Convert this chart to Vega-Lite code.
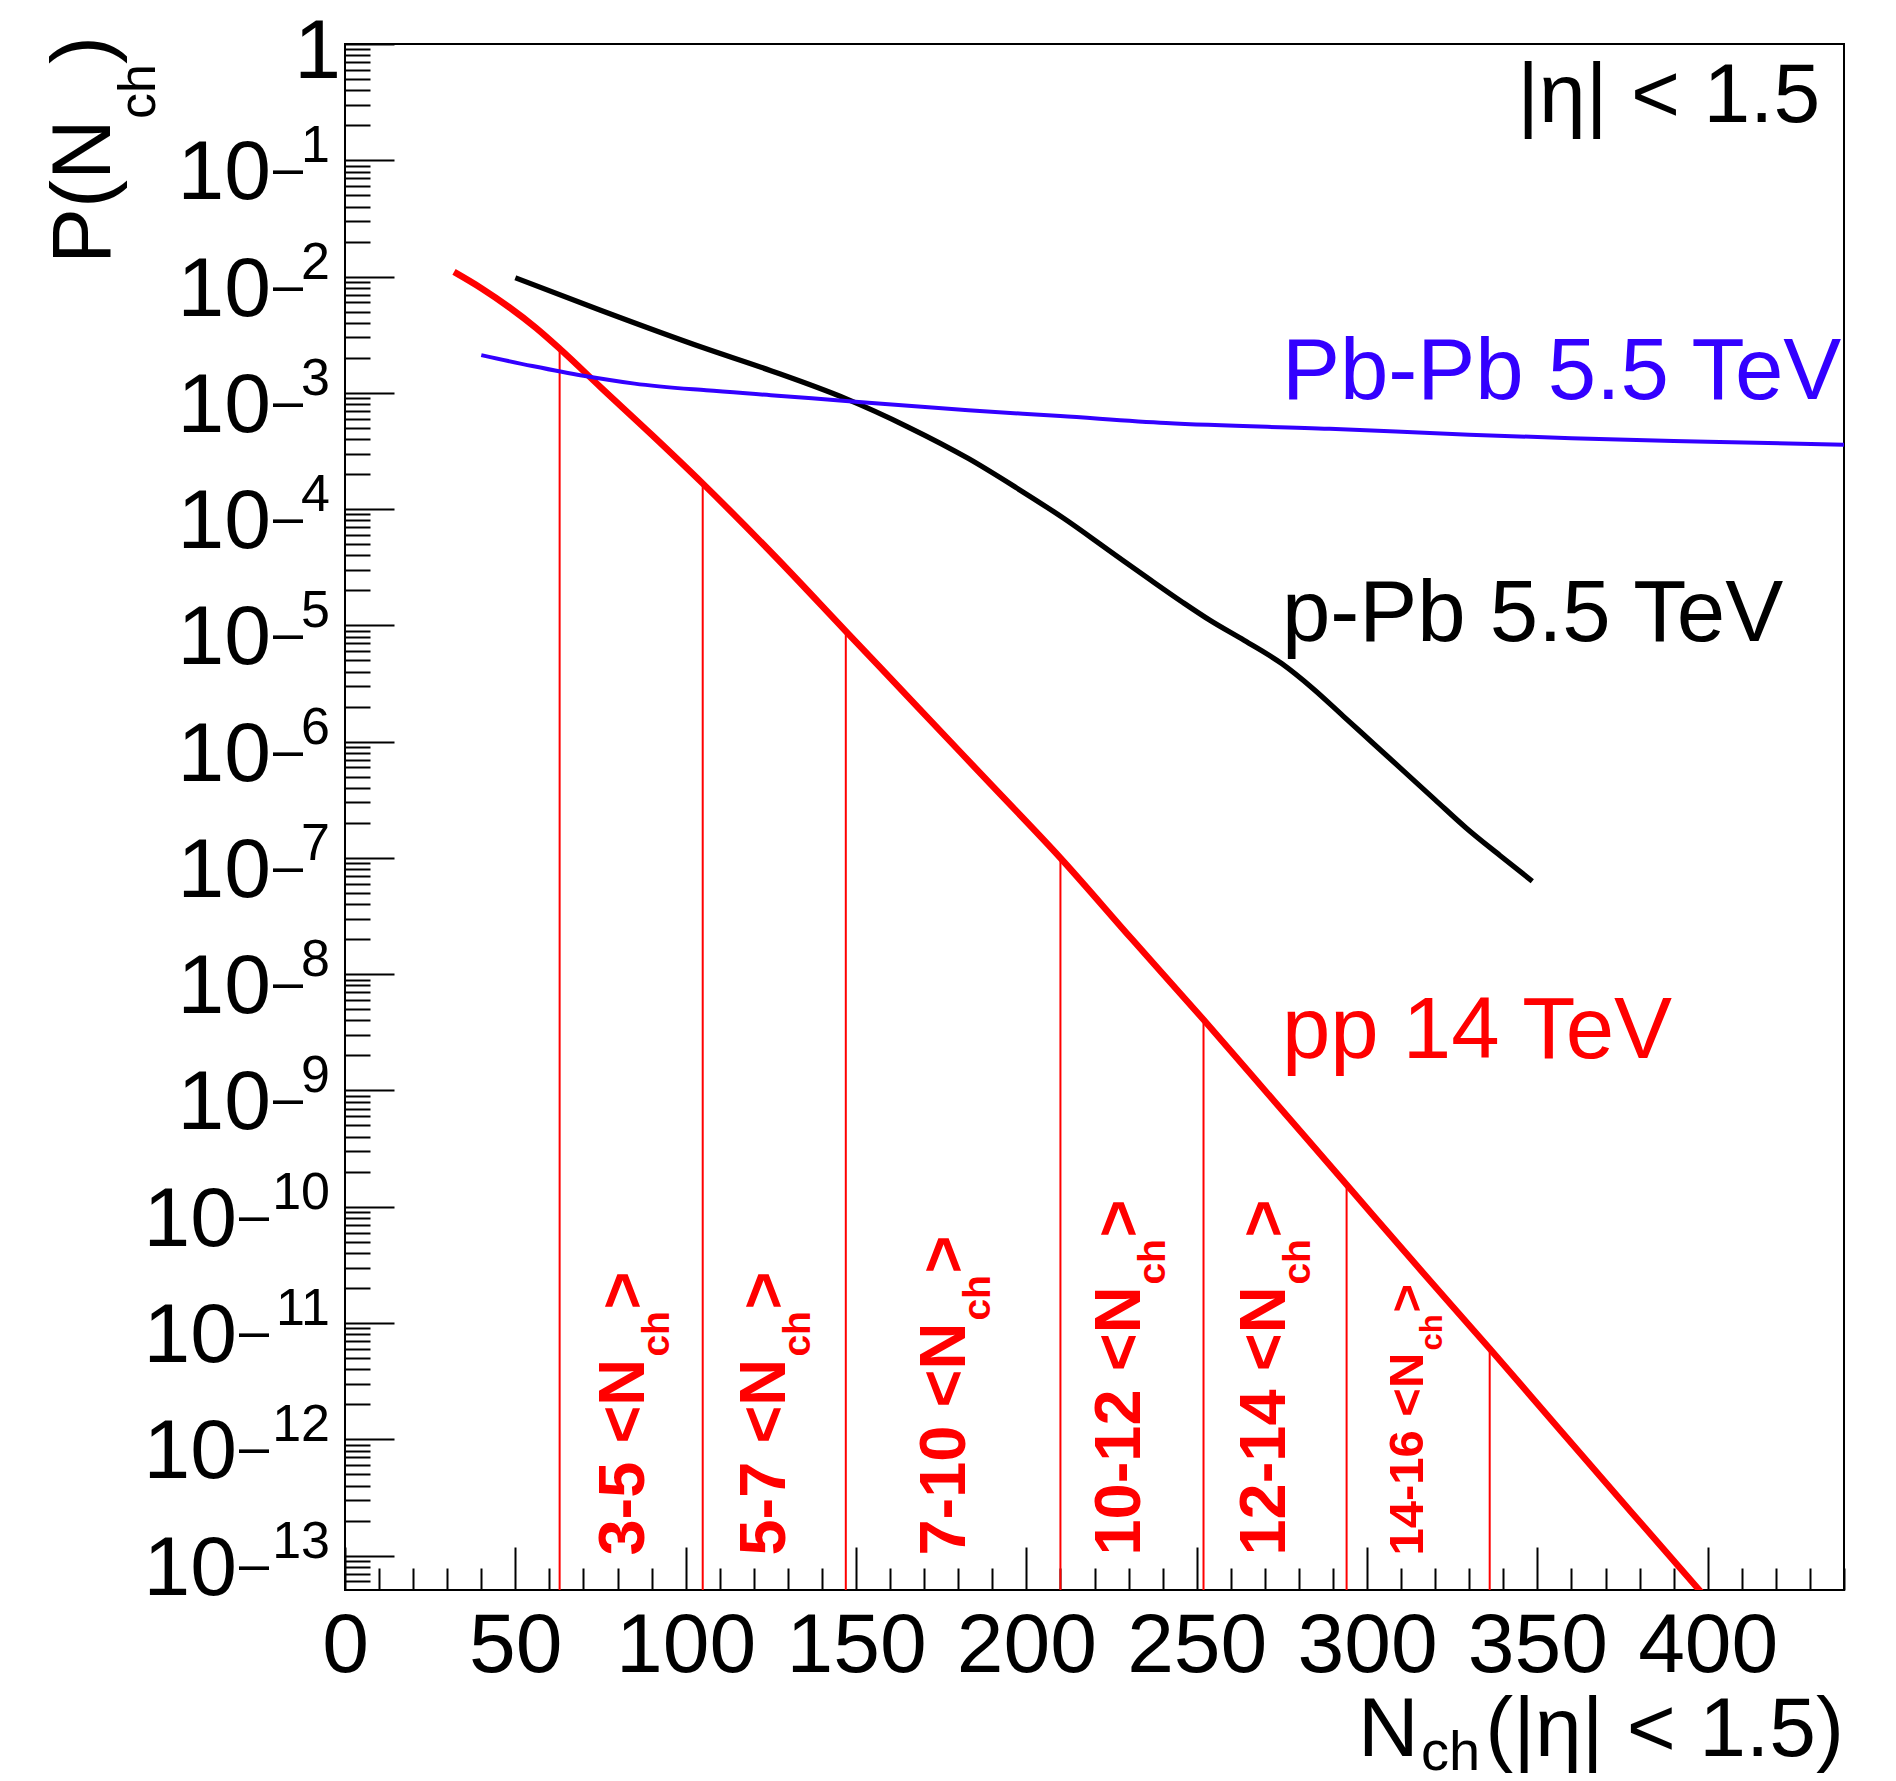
{
  "$schema": "https://vega.github.io/schema/vega-lite/v6.json",
  "width": 1499,
  "height": 1546,
  "autosize": {"type": "none"},
  "padding": {"left": 345, "top": 44, "right": 52, "bottom": 191},
  "background": "#ffffff",
  "config": {
    "font": "Liberation Sans",
    "view": {"stroke": "#000000", "strokeWidth": 2},
    "text": {"font": "Liberation Sans"}
  },
  "datasets": {
    "curves": [
      {"s": "pp 14 TeV", "n": 32, "p": 1.096e-2},
      {"s": "pp 14 TeV", "n": 40, "p": 7.94e-3},
      {"s": "pp 14 TeV", "n": 48, "p": 5.50e-3},
      {"s": "pp 14 TeV", "n": 56, "p": 3.63e-3},
      {"s": "pp 14 TeV", "n": 63, "p": 2.40e-3},
      {"s": "pp 14 TeV", "n": 75, "p": 1.12e-3},
      {"s": "pp 14 TeV", "n": 90, "p": 4.37e-4},
      {"s": "pp 14 TeV", "n": 105, "p": 1.66e-4},
      {"s": "pp 14 TeV", "n": 126, "p": 3.98e-5},
      {"s": "pp 14 TeV", "n": 147, "p": 8.91e-6},
      {"s": "pp 14 TeV", "n": 168, "p": 2.00e-6},
      {"s": "pp 14 TeV", "n": 189, "p": 4.47e-7},
      {"s": "pp 14 TeV", "n": 210, "p": 1.00e-7},
      {"s": "pp 14 TeV", "n": 231, "p": 2.00e-8},
      {"s": "pp 14 TeV", "n": 252, "p": 4.07e-9},
      {"s": "pp 14 TeV", "n": 273, "p": 7.94e-10},
      {"s": "pp 14 TeV", "n": 294, "p": 1.55e-10},
      {"s": "pp 14 TeV", "n": 315, "p": 3.02e-11},
      {"s": "pp 14 TeV", "n": 336, "p": 6.03e-12},
      {"s": "pp 14 TeV", "n": 357, "p": 1.17e-12},
      {"s": "pp 14 TeV", "n": 378, "p": 2.29e-13},
      {"s": "pp 14 TeV", "n": 400, "p": 4.17e-14},
      {"s": "p-Pb 5.5 TeV", "n": 50, "p": 9.77e-3},
      {"s": "p-Pb 5.5 TeV", "n": 75, "p": 5.13e-3},
      {"s": "p-Pb 5.5 TeV", "n": 105, "p": 2.45e-3},
      {"s": "p-Pb 5.5 TeV", "n": 125, "p": 1.55e-3},
      {"s": "p-Pb 5.5 TeV", "n": 147, "p": 8.91e-4},
      {"s": "p-Pb 5.5 TeV", "n": 165, "p": 5.13e-4},
      {"s": "p-Pb 5.5 TeV", "n": 183, "p": 2.72e-4},
      {"s": "p-Pb 5.5 TeV", "n": 197, "p": 1.53e-4},
      {"s": "p-Pb 5.5 TeV", "n": 211, "p": 8.32e-5},
      {"s": "p-Pb 5.5 TeV", "n": 224, "p": 4.47e-5},
      {"s": "p-Pb 5.5 TeV", "n": 236, "p": 2.51e-5},
      {"s": "p-Pb 5.5 TeV", "n": 246, "p": 1.57e-5},
      {"s": "p-Pb 5.5 TeV", "n": 254, "p": 1.10e-5},
      {"s": "p-Pb 5.5 TeV", "n": 264, "p": 7.41e-6},
      {"s": "p-Pb 5.5 TeV", "n": 275, "p": 4.68e-6},
      {"s": "p-Pb 5.5 TeV", "n": 284, "p": 2.88e-6},
      {"s": "p-Pb 5.5 TeV", "n": 293, "p": 1.66e-6},
      {"s": "p-Pb 5.5 TeV", "n": 302, "p": 9.55e-7},
      {"s": "p-Pb 5.5 TeV", "n": 311, "p": 5.50e-7},
      {"s": "p-Pb 5.5 TeV", "n": 320, "p": 3.16e-7},
      {"s": "p-Pb 5.5 TeV", "n": 329, "p": 1.82e-7},
      {"s": "p-Pb 5.5 TeV", "n": 339, "p": 1.05e-7},
      {"s": "p-Pb 5.5 TeV", "n": 348.5, "p": 6.31e-8},
      {"s": "Pb-Pb 5.5 TeV", "n": 40, "p": 2.11e-3},
      {"s": "Pb-Pb 5.5 TeV", "n": 55, "p": 1.70e-3},
      {"s": "Pb-Pb 5.5 TeV", "n": 70, "p": 1.40e-3},
      {"s": "Pb-Pb 5.5 TeV", "n": 85, "p": 1.20e-3},
      {"s": "Pb-Pb 5.5 TeV", "n": 106, "p": 1.05e-3},
      {"s": "Pb-Pb 5.5 TeV", "n": 125, "p": 9.55e-4},
      {"s": "Pb-Pb 5.5 TeV", "n": 147, "p": 8.51e-4},
      {"s": "Pb-Pb 5.5 TeV", "n": 183, "p": 7.08e-4},
      {"s": "Pb-Pb 5.5 TeV", "n": 210, "p": 6.31e-4},
      {"s": "Pb-Pb 5.5 TeV", "n": 241, "p": 5.50e-4},
      {"s": "Pb-Pb 5.5 TeV", "n": 289, "p": 4.90e-4},
      {"s": "Pb-Pb 5.5 TeV", "n": 330, "p": 4.37e-4},
      {"s": "Pb-Pb 5.5 TeV", "n": 360, "p": 4.07e-4},
      {"s": "Pb-Pb 5.5 TeV", "n": 400, "p": 3.80e-4},
      {"s": "Pb-Pb 5.5 TeV", "n": 440, "p": 3.57e-4}
    ],
    "cuts": [
      {"n": 63, "p": 2.40e-3},
      {"n": 105, "p": 1.66e-4},
      {"n": 147, "p": 8.91e-6},
      {"n": 210, "p": 1.00e-7},
      {"n": 252, "p": 4.07e-9},
      {"n": 294, "p": 1.55e-10},
      {"n": 336, "p": 6.03e-12}
    ],
    "tags": [
      {"s": "Pb-Pb 5.5 TeV", "n": 275, "p": 8.91e-4},
      {"s": "p-Pb 5.5 TeV", "n": 275, "p": 7.41e-6},
      {"s": "pp 14 TeV", "n": 275, "p": 1.91e-9}
    ],
    "ranges": [
      {"t": "3-5 <N", "n": 87.9, "p": 1e-13},
      {"t": "5-7 <N", "n": 129.1, "p": 1e-13},
      {"t": "7-10 <N", "n": 182.0, "p": 1e-13},
      {"t": "10-12 <N", "n": 233.5, "p": 1e-13},
      {"t": "12-14 <N", "n": 275.9, "p": 1e-13}
    ],
    "ranges_small": [
      {"t": "14-16 <N", "n": 316.5, "p": 1e-13}
    ],
    "decades": [
      {"p": 1e-1, "e": "1"},
      {"p": 1e-2, "e": "2"},
      {"p": 1e-3, "e": "3"},
      {"p": 1e-4, "e": "4"},
      {"p": 1e-5, "e": "5"},
      {"p": 1e-6, "e": "6"},
      {"p": 1e-7, "e": "7"},
      {"p": 1e-8, "e": "8"},
      {"p": 1e-9, "e": "9"},
      {"p": 1e-10, "e": "10"},
      {"p": 1e-11, "e": "11"},
      {"p": 1e-12, "e": "12"},
      {"p": 1e-13, "e": "13"}
    ]
  },
  "encoding": {
    "x": {
      "field": "n",
      "type": "quantitative",
      "scale": {"domain": [0, 440], "nice": false, "zero": false},
      "axis": {
        "title": null,
        "domain": false,
        "grid": false,
        "values": [0, 10, 20, 30, 40, 50, 60, 70, 80, 90, 100, 110, 120, 130, 140, 150, 160, 170, 180, 190, 200, 210, 220, 230, 240, 250, 260, 270, 280, 290, 300, 310, 320, 330, 340, 350, 360, 370, 380, 390, 400, 410, 420, 430, 440],
        "tickSize": {"condition": {"test": "datum.value % 50 === 0", "value": -43}, "value": -22},
        "tickColor": "#000000",
        "tickWidth": 2,
        "labelExpr": "datum.value % 50 === 0 ? format(datum.value, 'd') : ''",
        "labelFont": "Liberation Sans",
        "labelFontSize": 84,
        "labelColor": "#000000",
        "labelBaseline": "top",
        "labelPadding": 58,
        "labelFlush": false,
        "labelOverlap": false,
        "labelBound": false
      }
    },
    "y": {
      "field": "p",
      "type": "quantitative",
      "scale": {"type": "log", "domain": [5.06e-14, 1], "nice": false},
      "axis": {
        "title": null,
        "domain": false,
        "grid": false,
        "labels": false,
        "values": [6e-14, 7e-14, 8e-14, 9e-14,
          1e-13, 2e-13, 3e-13, 4e-13, 5e-13, 6e-13, 7e-13, 8e-13, 9e-13,
          1e-12, 2e-12, 3e-12, 4e-12, 5e-12, 6e-12, 7e-12, 8e-12, 9e-12,
          1e-11, 2e-11, 3e-11, 4e-11, 5e-11, 6e-11, 7e-11, 8e-11, 9e-11,
          1e-10, 2e-10, 3e-10, 4e-10, 5e-10, 6e-10, 7e-10, 8e-10, 9e-10,
          1e-9, 2e-9, 3e-9, 4e-9, 5e-9, 6e-9, 7e-9, 8e-9, 9e-9,
          1e-8, 2e-8, 3e-8, 4e-8, 5e-8, 6e-8, 7e-8, 8e-8, 9e-8,
          1e-7, 2e-7, 3e-7, 4e-7, 5e-7, 6e-7, 7e-7, 8e-7, 9e-7,
          1e-6, 2e-6, 3e-6, 4e-6, 5e-6, 6e-6, 7e-6, 8e-6, 9e-6,
          1e-5, 2e-5, 3e-5, 4e-5, 5e-5, 6e-5, 7e-5, 8e-5, 9e-5,
          1e-4, 2e-4, 3e-4, 4e-4, 5e-4, 6e-4, 7e-4, 8e-4, 9e-4,
          1e-3, 2e-3, 3e-3, 4e-3, 5e-3, 6e-3, 7e-3, 8e-3, 9e-3,
          1e-2, 2e-2, 3e-2, 4e-2, 5e-2, 6e-2, 7e-2, 8e-2, 9e-2,
          1e-1, 2e-1, 3e-1, 4e-1, 5e-1, 6e-1, 7e-1, 8e-1, 9e-1, 1],
        "tickSize": {"condition": {"test": "abs(log(datum.value) / LN10 - round(log(datum.value) / LN10)) < 0.001", "value": -49}, "value": -25},
        "tickColor": "#000000",
        "tickWidth": 2
      }
    }
  },
  "layer": [
    {
      "data": {"name": "cuts"},
      "mark": {"type": "rule", "color": "#ff0000", "strokeWidth": 2},
      "encoding": {"y2": {"datum": 5.06e-14}}
    },
    {
      "data": {"name": "curves"},
      "mark": {"type": "line", "clip": true, "interpolate": "monotone", "strokeCap": "butt", "strokeJoin": "round"},
      "encoding": {
        "color": {"field": "s", "type": "nominal", "legend": null,
          "scale": {"domain": ["pp 14 TeV", "p-Pb 5.5 TeV", "Pb-Pb 5.5 TeV"], "range": ["#ff0000", "#000000", "#3300ff"]}},
        "strokeWidth": {"field": "s", "type": "nominal", "legend": null,
          "scale": {"domain": ["pp 14 TeV", "p-Pb 5.5 TeV", "Pb-Pb 5.5 TeV"], "range": [6.5, 4, 4]}}
      }
    },
    {
      "data": {"name": "tags"},
      "mark": {"type": "text", "align": "left", "baseline": "alphabetic", "fontSize": 87},
      "encoding": {
        "text": {"field": "s", "type": "nominal"},
        "color": {"field": "s", "type": "nominal", "legend": null,
          "scale": {"domain": ["pp 14 TeV", "p-Pb 5.5 TeV", "Pb-Pb 5.5 TeV"], "range": ["#ff0000", "#000000", "#3300ff"]}}
      }
    },
    {
      "data": {"values": [{"t": "|η| < 1.5", "n": 433, "p": 0.215}]},
      "mark": {"type": "text", "align": "right", "baseline": "alphabetic", "fontSize": 84, "color": "#000000"},
      "encoding": {"text": {"field": "t", "type": "nominal"}}
    },
    {
      "data": {"name": "ranges"},
      "mark": {"type": "text", "angle": 270, "align": "left", "baseline": "alphabetic", "fontSize": 65, "fontWeight": "bold", "color": "#ff0000"},
      "encoding": {"text": {"field": "t", "type": "nominal"}}
    },
    {
      "data": {"name": "ranges"},
      "transform": [{"filter": "length(datum.t) == 6"}],
      "mark": {"type": "text", "angle": 270, "align": "left", "baseline": "alphabetic", "fontSize": 39, "fontWeight": "bold", "color": "#ff0000", "dx": 199, "dy": 25},
      "encoding": {"text": {"value": "ch"}}
    },
    {
      "data": {"name": "ranges"},
      "transform": [{"filter": "length(datum.t) == 7"}],
      "mark": {"type": "text", "angle": 270, "align": "left", "baseline": "alphabetic", "fontSize": 39, "fontWeight": "bold", "color": "#ff0000", "dx": 235, "dy": 25},
      "encoding": {"text": {"value": "ch"}}
    },
    {
      "data": {"name": "ranges"},
      "transform": [{"filter": "length(datum.t) == 8"}],
      "mark": {"type": "text", "angle": 270, "align": "left", "baseline": "alphabetic", "fontSize": 39, "fontWeight": "bold", "color": "#ff0000", "dx": 271, "dy": 25},
      "encoding": {"text": {"value": "ch"}}
    },
    {
      "data": {"name": "ranges"},
      "transform": [{"filter": "length(datum.t) == 6"}],
      "mark": {"type": "text", "angle": 270, "align": "left", "baseline": "alphabetic", "fontSize": 65, "fontWeight": "bold", "color": "#ff0000", "dx": 246},
      "encoding": {"text": {"value": ">"}}
    },
    {
      "data": {"name": "ranges"},
      "transform": [{"filter": "length(datum.t) == 7"}],
      "mark": {"type": "text", "angle": 270, "align": "left", "baseline": "alphabetic", "fontSize": 65, "fontWeight": "bold", "color": "#ff0000", "dx": 282},
      "encoding": {"text": {"value": ">"}}
    },
    {
      "data": {"name": "ranges"},
      "transform": [{"filter": "length(datum.t) == 8"}],
      "mark": {"type": "text", "angle": 270, "align": "left", "baseline": "alphabetic", "fontSize": 65, "fontWeight": "bold", "color": "#ff0000", "dx": 318},
      "encoding": {"text": {"value": ">"}}
    },
    {
      "data": {"name": "ranges_small"},
      "mark": {"type": "text", "angle": 270, "align": "left", "baseline": "alphabetic", "fontSize": 49, "fontWeight": "bold", "color": "#ff0000"},
      "encoding": {"text": {"field": "t", "type": "nominal"}}
    },
    {
      "data": {"name": "ranges_small"},
      "mark": {"type": "text", "angle": 270, "align": "left", "baseline": "alphabetic", "fontSize": 31, "fontWeight": "bold", "color": "#ff0000", "dx": 205, "dy": 19},
      "encoding": {"text": {"value": "ch"}}
    },
    {
      "data": {"name": "ranges_small"},
      "mark": {"type": "text", "angle": 270, "align": "left", "baseline": "alphabetic", "fontSize": 49, "fontWeight": "bold", "color": "#ff0000", "dx": 243},
      "encoding": {"text": {"value": ">"}}
    },
    {
      "data": {"name": "decades"},
      "transform": [{"filter": "length(datum.e) == 1"}],
      "mark": {"type": "text", "align": "right", "baseline": "alphabetic", "fontSize": 84, "color": "#000000", "dx": -74, "dy": 39},
      "encoding": {"x": {"value": 0}, "text": {"value": "10"}}
    },
    {
      "data": {"name": "decades"},
      "transform": [{"filter": "length(datum.e) == 2"}],
      "mark": {"type": "text", "align": "right", "baseline": "alphabetic", "fontSize": 84, "color": "#000000", "dx": -108, "dy": 39},
      "encoding": {"x": {"value": 0}, "text": {"value": "10"}}
    },
    {
      "data": {"name": "decades"},
      "transform": [{"filter": "length(datum.e) == 1"}],
      "mark": {"type": "text", "align": "right", "baseline": "alphabetic", "fontSize": 54, "color": "#000000", "dx": -42, "dy": 26},
      "encoding": {"x": {"value": 0}, "text": {"value": "–"}}
    },
    {
      "data": {"name": "decades"},
      "transform": [{"filter": "length(datum.e) == 2"}],
      "mark": {"type": "text", "align": "right", "baseline": "alphabetic", "fontSize": 54, "color": "#000000", "dx": -76, "dy": 26},
      "encoding": {"x": {"value": 0}, "text": {"value": "–"}}
    },
    {
      "data": {"name": "decades"},
      "mark": {"type": "text", "align": "right", "baseline": "alphabetic", "fontSize": 52, "color": "#000000", "dx": -15, "dy": 2},
      "encoding": {"x": {"value": 0}, "text": {"field": "e", "type": "nominal"}}
    },
    {
      "data": {"values": [{"p": 1}]},
      "mark": {"type": "text", "align": "right", "baseline": "alphabetic", "fontSize": 84, "color": "#000000", "dx": -4, "dy": 34},
      "encoding": {"x": {"value": 0}, "text": {"value": "1"}}
    },
    {
      "data": {"values": [{}]},
      "mark": {"type": "text", "angle": 270, "align": "left", "baseline": "alphabetic", "fontSize": 84, "color": "#000000", "dx": -220, "dy": -235},
      "encoding": {"x": {"value": 0}, "y": {"value": 0}, "text": {"value": "P(N"}}
    },
    {
      "data": {"values": [{}]},
      "mark": {"type": "text", "angle": 270, "align": "left", "baseline": "alphabetic", "fontSize": 52, "color": "#000000", "dx": -75, "dy": -190},
      "encoding": {"x": {"value": 0}, "y": {"value": 0}, "text": {"value": "ch"}}
    },
    {
      "data": {"values": [{}]},
      "mark": {"type": "text", "angle": 270, "align": "left", "baseline": "alphabetic", "fontSize": 84, "color": "#000000", "dx": -20, "dy": -235},
      "encoding": {"x": {"value": 0}, "y": {"value": 0}, "text": {"value": ")"}}
    },
    {
      "data": {"values": [{}]},
      "mark": {"type": "text", "align": "left", "baseline": "alphabetic", "fontSize": 84, "color": "#000000", "dx": -486, "dy": 166},
      "encoding": {"x": {"value": "width"}, "y": {"value": "height"}, "text": {"value": "N"}}
    },
    {
      "data": {"values": [{}]},
      "mark": {"type": "text", "align": "left", "baseline": "alphabetic", "fontSize": 56, "color": "#000000", "dx": -423, "dy": 180},
      "encoding": {"x": {"value": "width"}, "y": {"value": "height"}, "text": {"value": "ch"}}
    },
    {
      "data": {"values": [{}]},
      "mark": {"type": "text", "align": "right", "baseline": "alphabetic", "fontSize": 84, "color": "#000000", "dy": 166},
      "encoding": {"x": {"value": "width"}, "y": {"value": "height"}, "text": {"value": "(|η| < 1.5)"}}
    }
  ]
}
